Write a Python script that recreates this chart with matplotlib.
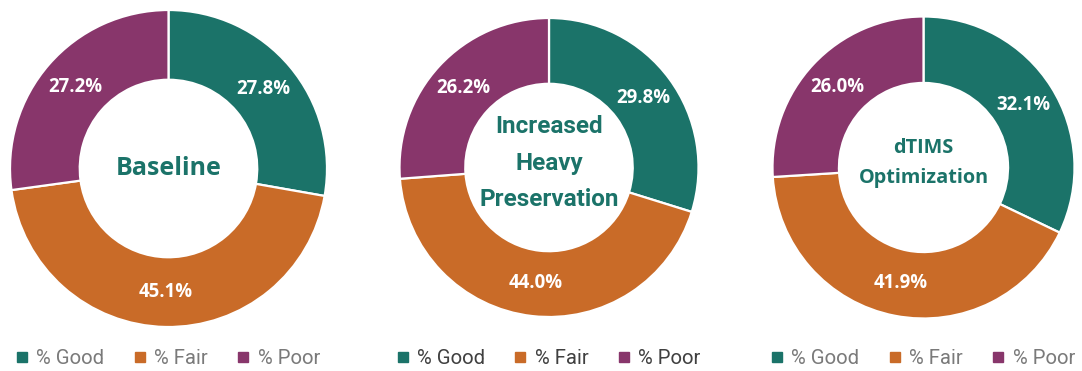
import matplotlib.pyplot as plt
import numpy as np
from matplotlib.lines import Line2D

# %% DATA
categories = ['% Good', '% Fair', '% Poor']
scenario_names = ['Baseline', 'Increased\nHeavy\nPreservation', 'dTIMS\nOptimization']
baseline = [27.8, 45.1, 27.2]
heavy_preservation = [29.8, 44.0, 26.2]
dtims_optimization = [32.1, 41.9, 26.0]
scenario_values = [baseline, heavy_preservation, dtims_optimization]

# %% STYLE
colours = ['#1b7369', '#c96b28', '#88366b']
W, H = 1082, 371
# (centre x, centre y, outer radius) in pixels for each donut
geometry = [(168.5, 168.5, 158.5), (549, 167.5, 149.5), (923.5, 167.5, 151)]
# centre caption: size, family, line spacing, vertical offset (axes units)
centre_style = [dict(size=18, family='Open Sans', linespacing=1.2, dy=0.0),
                dict(size=17.5, family='Roboto', linespacing=1.75, dy=0.03),
                dict(size=14.3, family='Open Sans', linespacing=1.65, dy=0.03)]
legend_colour = ['#7a7a7a', '#404040', '#7a7a7a']
hole = 0.56

fig = plt.figure(figsize=(W / 100, H / 100), dpi=100)

for i, values in enumerate(scenario_values):
    cx, cy, r = geometry[i]
    ax = fig.add_axes([(cx - r) / W, (H - cy - r) / H, 2 * r / W, 2 * r / H])
    wedges, _ = ax.pie(values, colors=colours, startangle=90, counterclock=False,
                       radius=1, wedgeprops=dict(width=1 - hole, edgecolor='white', linewidth=1.6))
    ax.set_xlim(-1.0, 1.0)
    ax.set_ylim(-1.0, 1.0)
    ax.set_aspect('equal')
    ax.axis('off')

    # percentage labels in the middle of each ring segment
    for w, v in zip(wedges, values):
        theta = np.deg2rad((w.theta1 + w.theta2) / 2)
        rr = (1 + hole) / 2
        ax.text(rr * np.cos(theta), rr * np.sin(theta), f'{v:.1f}%', ha='center', va='center',
                color='white', fontsize=13.4, fontweight='bold', family='Open Sans')

    st = centre_style[i]
    ax.text(0, st['dy'], scenario_names[i], ha='center', va='center', color=colours[0],
            fontsize=st['size'], fontweight='bold', family=st['family'],
            linespacing=st['linespacing'])

    handles = [Line2D([], [], marker='s', linestyle='none', markersize=7.5,
                      markerfacecolor=c, markeredgecolor=c) for c in colours]
    fig.legend(handles, categories, loc='center', bbox_to_anchor=(cx / W, 1 - 359 / H),
               ncol=3, frameon=False, handlelength=0.5, handletextpad=0.45,
               columnspacing=1.5, labelcolor=legend_colour[i],
               prop=dict(family='Roboto', size=14.6))

fig.savefig('out.png', dpi=100)
